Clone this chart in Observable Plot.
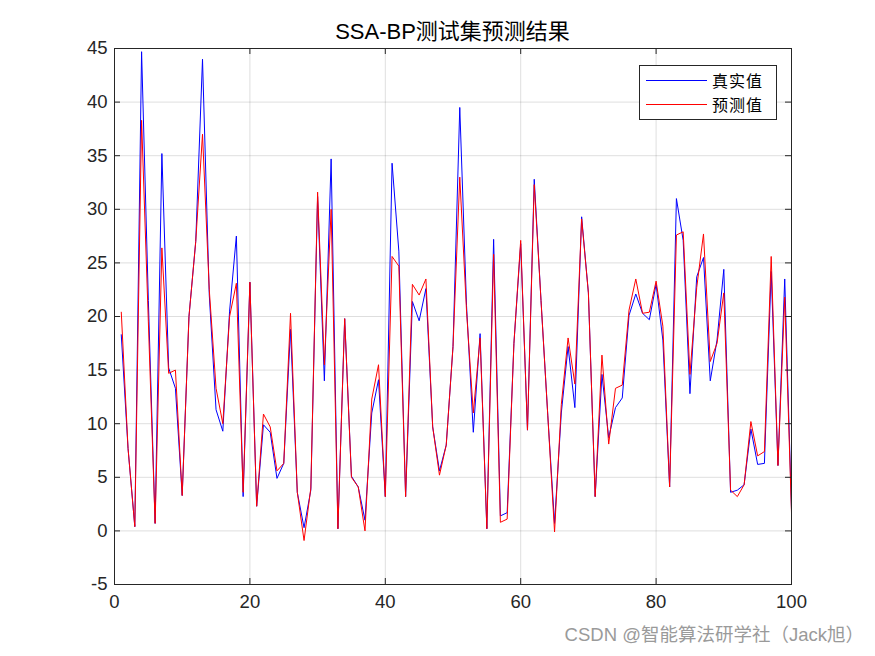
<!DOCTYPE html>
<html>
<head>
<meta charset="utf-8">
<script src="https://cdn.jsdelivr.net/npm/d3@7"></script>
<script src="https://cdn.jsdelivr.net/npm/@observablehq/plot@0.6"></script>
<style>
  body { margin: 0; background: #fff; }
  #wrap { position: relative; width: 875px; height: 656px; overflow: hidden; background: #fff; }
  #title { position: absolute; top: 19px; left: 114px; width: 677px; text-align: center;
           font-family: "Liberation Sans", Arial, "Noto Sans CJK SC", sans-serif; font-size: 22px; line-height: 26px; color: #000; }
  #legend { position: absolute; left: 639px; top: 65px; width: 138px; height: 55px; box-sizing: border-box;
            border: 1px solid #262626; background: #fff; font-family: "Noto Sans CJK SC", sans-serif; font-size: 16px; color: #000; }
  .row { position: absolute; left: 0; height: 24px; width: 100%; }
  .row .ln { position: absolute; left: 6px; width: 61px; top: 12px; height: 0; border-top: 1px solid; }
  .row .tx { position: absolute; left: 72px; top: 0; line-height: 24px; letter-spacing: 1px; }
  #credit { position: absolute; right: 11px; top: 624px; font-family: "Liberation Sans", Arial, "Noto Sans CJK SC", sans-serif;
            font-size: 18.5px; line-height: 22px; color: #9a9a9a; }
  #chart { position: absolute; left: 0; top: 0; }
</style>
</head>
<body>
<div id="wrap">
  <div id="chart"></div>
  <div id="title"></div>
  <div id="legend"></div>
  <div id="credit"></div>
</div>
<script>
const titleText = "SSA-BP测试集预测结果";
const seriesNames = ["真实值", "预测值"];
const seriesColors = ["#0000ff", "#ff0000"];
const creditText = "CSDN @智能算法研学社（Jack旭）";

const xTicks = [0, 20, 40, 60, 80, 100];
const yTicks = [-5, 0, 5, 10, 15, 20, 25, 30, 35, 40, 45];

const actual = [
  18.3, 7.7, 0.4, 44.7, 21.5, 0.7, 35.2, 15.2, 13.3, 3.3,
  20.0, 27.0, 44.0, 22.0, 11.3, 9.3, 20.5, 27.5, 3.2, 23.2,
  2.3, 9.9, 9.2, 4.9, 6.3, 18.8, 3.6, 0.3, 3.8, 31.2,
  14.0, 34.7, 0.2, 19.8, 5.1, 4.1, 1.0, 11.0, 14.1, 3.2,
  34.3, 26.1, 3.2, 21.4, 19.6, 22.6, 9.7, 5.6, 8.0, 17.2,
  39.5, 21.0, 9.2, 18.4, 0.2, 27.2, 1.4, 1.7, 17.5, 26.8,
  9.4, 32.8, 21.5, 10.8, 0.7, 11.0, 17.2, 11.5, 29.3, 22.2,
  3.2, 14.6, 8.7, 11.5, 12.4, 20.1, 22.1, 20.3, 19.7, 23.0,
  17.8, 4.1, 31.0, 27.1, 12.8, 23.7, 25.5, 14.0, 17.8, 24.4,
  3.6, 3.8, 4.3, 9.5, 6.2, 6.3, 24.2, 6.1, 23.5, 2.0
];
const predicted = [
  20.4, 7.7, 0.4, 38.3, 19.5, 0.7, 26.4, 14.7, 15.0, 3.3,
  20.0, 27.0, 37.0, 22.5, 13.3, 10.0, 20.0, 23.1, 3.6, 23.2,
  2.3, 10.9, 9.7, 5.6, 6.3, 20.3, 3.6, -0.9, 4.0, 31.6,
  15.5, 30.0, 0.2, 19.8, 5.0, 4.1, 0.0, 12.3, 15.5, 3.2,
  25.6, 24.7, 3.2, 23.0, 22.0, 23.5, 9.7, 5.2, 8.0, 17.2,
  33.0, 20.5, 11.0, 18.0, 0.2, 25.8, 0.8, 1.1, 17.5, 27.1,
  9.4, 32.3, 21.5, 10.8, -0.1, 11.8, 18.0, 13.7, 29.1, 22.2,
  3.2, 16.4, 8.1, 13.3, 13.6, 20.6, 23.5, 20.3, 20.4, 23.3,
  19.1, 4.1, 27.6, 27.9, 14.6, 22.7, 27.7, 15.8, 17.5, 22.2,
  3.8, 3.2, 4.3, 10.2, 7.0, 7.4, 25.6, 6.1, 21.8, 1.7
];

const W = 875, H = 656;
const mt = 48, mb = 72, ml = 114, mr = 84;
const fw = W - ml - mr, fh = H - mt - mb;
const tk = 6;
const axisColor = "#262626";

const rows = actual.map((v, i) => ({ i: i + 1, actual: v, predicted: predicted[i] }));

const plot = Plot.plot({
  width: W, height: H,
  marginTop: mt, marginBottom: mb, marginLeft: ml, marginRight: mr,
  x: { domain: [0, 100] },
  y: { domain: [-5, 45] },
  style: { fontSize: "18.5px", fontFamily: "Liberation Sans, Arial, sans-serif", color: axisColor, background: "white" },
  marks: [
    Plot.gridX(xTicks, { stroke: "#000", strokeOpacity: 0.13 }),
    Plot.gridY(yTicks, { stroke: "#000", strokeOpacity: 0.13 }),
    Plot.line(rows, { x: "i", y: "actual", stroke: seriesColors[0], strokeWidth: 1 }),
    Plot.line(rows, { x: "i", y: "predicted", stroke: seriesColors[1], strokeWidth: 1 }),
    Plot.frame({ stroke: axisColor }),
    Plot.tickX(xTicks, { x: d => d, insetTop: fh - tk, stroke: axisColor }),
    Plot.tickX(xTicks, { x: d => d, insetBottom: fh - tk, stroke: axisColor }),
    Plot.tickY(yTicks, { y: d => d, insetRight: fw - tk, stroke: axisColor }),
    Plot.tickY(yTicks, { y: d => d, insetLeft: fw - tk, stroke: axisColor }),
    Plot.axisX(xTicks, { tickSize: 0, tickPadding: 10, label: null, tickFormat: d => String(d), fill: axisColor }),
    Plot.axisY(yTicks, { tickSize: 0, tickPadding: 7, label: null, tickFormat: d => String(d), fill: axisColor })
  ]
});
document.getElementById("chart").appendChild(plot);

document.getElementById("title").textContent = titleText;
document.getElementById("credit").textContent = creditText;

const legend = document.getElementById("legend");
seriesNames.forEach((name, k) => {
  const row = document.createElement("div");
  row.className = "row";
  row.style.top = (2 + k * 24) + "px";
  const ln = document.createElement("div");
  ln.className = "ln";
  ln.style.borderTopColor = seriesColors[k];
  const tx = document.createElement("div");
  tx.className = "tx";
  tx.textContent = name;
  row.appendChild(ln); row.appendChild(tx);
  legend.appendChild(row);
});
</script>
</body>
</html>
